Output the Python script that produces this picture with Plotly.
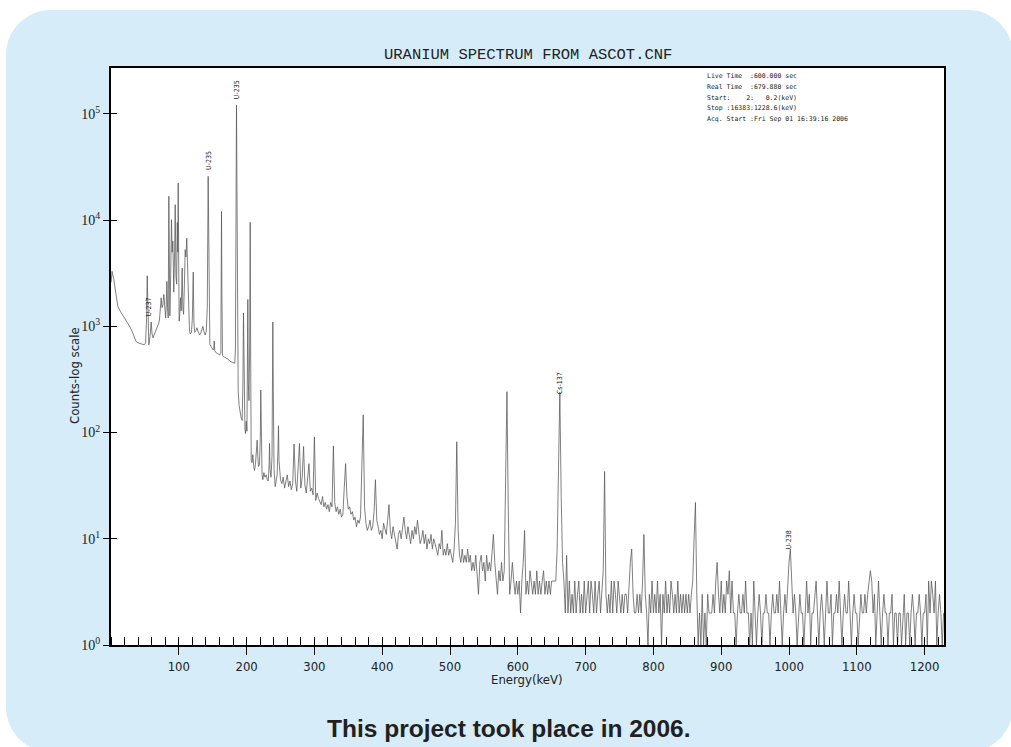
import math
import plotly.graph_objects as go

# ---------------- data ----------------
# low-energy part, irregular sampling around the many peaks
energy_low = [0.2, 1.5, 4, 7, 10, 14, 17, 21, 25, 28, 31, 34, 37, 40, 43, 46, 49, 51,
              52.5, 53.4, 54.3, 55.8, 57.5, 59.3, 60.5, 62, 63.5, 65.7, 68, 70, 71.5, 73,
              74, 75.2, 76.5, 78, 79.3, 80.6, 81.5, 82.4, 83.4, 84.4, 85.3, 86.2, 86.8, 88,
              89.2, 90.2, 91.2, 92, 92.6, 93.8, 94.7, 95.8, 96.8, 97.8, 98.5, 99.1, 99.8,
              100.5, 101.5, 102.5, 103.5, 105, 106, 107, 108.3, 109.4, 110.5, 111.8, 112.8,
              113.8, 114.8, 115.8, 117, 118.7, 120, 121.3, 122.3, 123.5, 125, 126.7, 128.5,
              130.7, 132.5, 134, 135.5, 137, 138.9, 140.5, 142, 143.3, 144.3, 145.8, 148,
              150.7, 151.6, 152.2, 153, 155.6, 158, 160.5, 162, 162.6, 163, 163.6, 164.5,
              167, 170.4, 173, 175.3, 178, 181.2, 182.5, 183.5, 184.5, 185.1, 185.8, 186.5,
              187.6, 189, 190.5, 192, 193.5, 194.6, 195.4, 196.3, 197.5, 198.4, 199.5, 200.5,
              201.3, 201.8, 202.5, 203.5, 204.5, 205.3, 206.1, 206.8, 208, 209.2, 210.5,
              211.7, 213, 214, 215, 215.6, 216.5, 217.6, 219, 220.2, 220.9, 221.7, 222.8,
              224, 225.5, 227, 229, 230.5, 232, 233.2, 233.8, 234.6, 236, 237.5, 238.2,
              238.7, 239.4, 240.5, 242.2, 243.5, 245, 246.3, 247, 247.8, 249]
counts_low = [2600, 3300, 2800, 2000, 1550, 1380, 1290, 1150, 1050, 990, 900, 800, 720, 700, 690, 680, 670, 700,
              1200, 3000, 1100, 670, 800, 1100, 850, 780, 830, 900, 950, 1050, 1150, 1500,
              1860, 1500, 1590, 2000, 1400, 1200, 1600, 2650, 1500, 1200, 16800, 2000, 1260, 3000,
              10100, 5000, 6340, 3500, 2100, 5000, 14000, 3000, 2500, 9500, 5000, 22400, 3000,
              1120, 1300, 1860, 1400, 3540, 1500, 1300, 2500, 5270, 4500, 6770, 4000,
              2650, 1300, 900, 850, 880, 1200, 3250, 1100, 880, 900, 970, 900,
              830, 870, 920, 1000, 900, 830, 900, 1500, 25900, 3000, 680, 640,
              600, 620, 730, 590, 560, 550, 540, 560, 5000, 12100, 2000, 530,
              515, 505, 490, 470, 460, 452, 450, 600, 30000, 121000, 20000, 1500,
              245, 180, 150, 137, 130, 300, 1340, 200, 110, 98, 128, 103,
              400, 1790, 300, 200, 600, 9550, 400, 55, 52, 62, 48,
              44, 50, 60, 70, 85, 60, 48, 50, 90, 252, 70, 40,
              36, 42, 38, 40, 36, 35, 50, 79, 45, 38, 60, 300,
              1100, 250, 45, 31, 35, 40, 70, 116, 55, 38]

# middle part: channels every 2 keV from 250 keV
mid_start_kev = 250.0
mid_step_kev = 2.0
counts_mid = [36, 33, 38, 30, 34, 40, 31, 35, 29, 33,
              78, 35, 28, 45, 79, 30, 38, 74, 32, 27,
              40, 51, 28, 30, 26, 91, 23, 27, 24, 22,
              21, 25, 20, 22, 19, 21, 18, 22, 20, 75,
              22, 18, 20, 17, 19, 16, 17, 30, 51, 25,
              19, 20, 17, 18, 15, 16, 13, 15, 14, 16,
              40, 147, 20, 14, 12, 13, 15, 12, 13, 18,
              36, 15, 13, 11, 12, 10, 14, 12, 11, 15,
              21, 12, 10, 13, 11, 9, 8, 11, 12, 10,
              13, 16, 12, 10, 13, 11, 9, 12, 10, 13,
              11, 15, 12, 9, 10, 12, 9, 11, 8, 10,
              9, 11, 8, 10, 9, 8, 7, 9, 8, 12,
              7, 8, 7, 9, 7, 8, 7, 6, 8, 14,
              82, 12, 7, 6, 8, 6, 7, 6, 8, 6,
              7, 5, 6, 5, 7, 4, 3, 6, 7, 5,
              6, 4, 7, 5, 6]

# high part: channels every 2 keV from 560 keV
high_start_kev = 560.0
high_step_kev = 2.0
counts_high = [5, 8, 11, 6, 4, 3, 5, 4, 6, 4,
               5, 30, 243, 18, 3, 4, 6, 4, 3, 4,
               3, 4, 2, 4, 6, 12, 3, 4, 3, 5,
               4, 3, 4, 3, 5, 3, 4, 3, 4, 5,
               3, 4, 3, 4, 3, 4, 4, 4, 4, 8,
               40, 240, 25, 6, 4, 2, 7, 2, 4, 2,
               3, 2, 4, 2, 3, 4, 2, 3, 2, 4,
               2, 3, 4, 2, 4, 3, 2, 4, 2, 3,
               4, 2, 3, 5, 43, 3, 2, 3, 2, 4,
               2, 4, 3, 2, 4, 3, 2, 3, 2, 3,
               3, 2, 4, 6, 8, 3, 2, 2, 3, 2,
               3, 2, 4, 11, 3, 2, 1, 3, 2, 4,
               2, 3, 2, 4, 2, 3, 1, 3, 2, 4,
               2, 3, 2, 4, 3, 2, 3, 2, 4, 2,
               3, 2, 3, 2, 3, 2, 3, 2, 3, 4,
               10, 22, 3, 1, 2, 1, 3, 1, 2, 1,
               3, 2, 2, 2, 3, 2, 4, 6, 3, 2,
               4, 2, 3, 2, 4, 3, 5, 2, 4, 2,
               2, 1, 2, 3, 2, 2, 3, 2, 4, 2,
               2, 1, 2, 1, 4, 2, 1, 2, 3, 2,
               1, 2, 2, 3, 2, 2, 1, 2, 3, 2,
               2, 3, 2, 4, 2, 1, 2, 3, 2, 4,
               6, 8, 4, 2, 3, 2, 1, 2, 3, 2,
               2, 1, 2, 4, 2, 3, 1, 2, 2, 3,
               4, 2, 1, 2, 3, 2, 1, 2, 4, 2,
               2, 3, 1, 2, 2, 3, 2, 4, 2, 1,
               2, 3, 2, 2, 4, 2, 1, 2, 3, 2,
               2, 1, 2, 3, 2, 2, 3, 2, 3, 4,
               5, 4, 2, 3, 1, 2, 4, 2, 1, 2,
               3, 2, 2, 1, 2, 2, 3, 1, 2, 2,
               1, 2, 2, 1, 2, 3, 1, 2, 2, 1,
               2, 3, 2, 1, 2, 2, 3, 2, 1, 2,
               2, 3, 1, 4, 2, 4, 3, 2, 4, 1,
               2, 3, 2, 1, 2]

peak_label_text = ["U-237", "U-235", "U-235", "Cs-137", "U-238"]
peak_label_energy = [57.4, 143.7, 185.1, 661.6, 1000.4]
peak_label_counts = [1200, 28400, 132000, 218, 7.6]

x_tick_values = [100, 200, 300, 400, 500, 600, 700, 800, 900, 1000, 1100, 1200]
y_tick_values = [1, 10, 100, 1000, 10000, 100000]
y_tick_text = ["10<sup>0</sup>", "10<sup>1</sup>", "10<sup>2</sup>",
               "10<sup>3</sup>", "10<sup>4</sup>", "10<sup>5</sup>"]

info_lines = ["Live Time  :600.000 sec",
              "Real Time  :679.880 sec",
              "Start:    2:   0.2(keV)",
              "Stop :16383:1228.6(keV)",
              "Acq. Start :Fri Sep 01 16:39:16 2006"]

title_text = "URANIUM SPECTRUM FROM ASCOT.CNF"
x_title = "Energy(keV)"
y_title = "Counts-log scale"
caption_text = "This project took place in 2006."

# ---------------- assemble series ----------------
assert len(energy_low) == len(counts_low)
energy_mid = [mid_start_kev + mid_step_kev * i for i in range(len(counts_mid))]
energy_high = [high_start_kev + high_step_kev * i for i in range(len(counts_high))]
energy = energy_low + energy_mid + energy_high
counts = counts_low + counts_mid + counts_high

X_RANGE = [0, 1228.6]
Y_RANGE = [0, 5.433]

# ---------------- layout geometry (pixels) ----------------
W, H = 1011, 747
L, R, T, B = 111, 944, 68, 645


def px(xp):
    return (xp - L) / (R - L)


def py(yp):
    return (B - yp) / (B - T)


fig = go.Figure()
fig.add_trace(go.Scatter(x=energy, y=counts, mode="lines",
                         line=dict(color="#555555", width=0.75),
                         hoverinfo="skip", showlegend=False))
fig.add_trace(go.Scatter(x=[None], y=[None], xaxis="x2", yaxis="y2",
                         hoverinfo="skip", showlegend=False))

tick_font = dict(family="Liberation Sans Narrow, DejaVu Sans Condensed, sans-serif",
                 size=13, color="#222")

fig.update_layout(
    width=W, height=H,
    margin=dict(l=L, r=W - R, t=T, b=H - B, pad=0),
    paper_bgcolor="white", plot_bgcolor="white",
    showlegend=False, hovermode=False,
    xaxis=dict(range=X_RANGE, showgrid=False, zeroline=False,
               showline=True, mirror=True, linewidth=2, linecolor="black",
               ticks="outside", ticklen=8, tickwidth=1, tickcolor="black",
               tickmode="array", tickvals=x_tick_values, tickfont=tick_font,
               minor=dict(ticks="inside", ticklen=8, tickwidth=1, tickcolor="black",
                          tickmode="linear", tick0=0, dtick=20, showgrid=False)),
    xaxis2=dict(range=X_RANGE, overlaying="x", anchor="y2", side="bottom",
                showgrid=False, zeroline=False, showline=False,
                ticks="inside", ticklen=8, tickwidth=1, tickcolor="black",
                tickmode="array", tickvals=x_tick_values, showticklabels=False),
    yaxis=dict(type="log", range=Y_RANGE, showgrid=False, zeroline=False,
               showline=True, mirror=True, linewidth=2, linecolor="black",
               ticks="outside", ticklen=6, tickwidth=1, tickcolor="black",
               tickmode="array", tickvals=y_tick_values, ticktext=y_tick_text,
               tickfont=dict(family="Liberation Serif, serif", size=14, color="#222")),
    yaxis2=dict(type="log", range=Y_RANGE, overlaying="y", anchor="x2", side="left",
                showgrid=False, zeroline=False, showline=False,
                ticks="inside", ticklen=6, tickwidth=1, tickcolor="black",
                tickmode="array", tickvals=y_tick_values, showticklabels=False),
)

# light-blue rounded panel with a hole for the plot area
x0, x1, y0, y1, r = 6, 1013, 10, 752, 45
k = 0.5523 * r


def P(a, b):
    return f"{px(a):.5f},{py(b):.5f}"


panel = (f"M {P(x0 + r, y0)} L {P(x1 - r, y0)} "
         f"C {P(x1 - r + k, y0)} {P(x1, y0 + r - k)} {P(x1, y0 + r)} "
         f"L {P(x1, y1 - r)} "
         f"C {P(x1, y1 - r + k)} {P(x1 - r + k, y1)} {P(x1 - r, y1)} "
         f"L {P(x0 + r, y1)} "
         f"C {P(x0 + r - k, y1)} {P(x0, y1 - r + k)} {P(x0, y1 - r)} "
         f"L {P(x0, y0 + r)} "
         f"C {P(x0, y0 + r - k)} {P(x0 + r - k, y0)} {P(x0 + r, y0)} Z "
         f"M {P(L, T)} L {P(R, T)} L {P(R, B)} L {P(L, B)} Z")
fig.add_shape(type="path", path=panel, xref="paper", yref="paper",
              fillcolor="rgb(214,236,249)", line=dict(width=0),
              fillrule="evenodd", layer="below")

ann = []
ann.append(dict(text=title_text, x=px(527.5), y=py(55), xref="paper", yref="paper",
                showarrow=False, xanchor="center", yanchor="middle",
                font=dict(family="Liberation Mono, monospace", size=15.5, color="#222")))
ann.append(dict(text=x_title, x=px(527), y=py(679), xref="paper", yref="paper",
                showarrow=False, xanchor="center", yanchor="middle", font=tick_font))
ann.append(dict(text=y_title, x=px(75), y=py(376), xref="paper", yref="paper",
                showarrow=False, xanchor="center", yanchor="middle", textangle=-90,
                font=dict(family="DejaVu Sans Condensed, sans-serif", size=13, color="#222")))
ann.append(dict(text="<b>" + caption_text + "</b>", x=px(508.5), y=py(728),
                xref="paper", yref="paper", showarrow=False,
                xanchor="center", yanchor="middle",
                font=dict(family="Liberation Sans, Arial, sans-serif", size=24.5, color="#231f20")))
for i, line in enumerate(info_lines):
    ann.append(dict(text=line.replace(" ", "\u00a0"), x=px(705), y=py(76 + 10.8 * i),
                    xref="paper", yref="paper", showarrow=False,
                    xanchor="left", yanchor="middle",
                    font=dict(family="DejaVu Sans Mono, monospace", size=6.5, color="#222")))
for t, e, c in zip(peak_label_text, peak_label_energy, peak_label_counts):
    ann.append(dict(text=t, x=e, y=math.log10(c), xref="x", yref="y",
                    showarrow=False, textangle=-90, xanchor="center", yanchor="bottom",
                    font=dict(family="DejaVu Sans Condensed, sans-serif", size=7, color="#222")))
fig.update_layout(annotations=ann)

fig.write_html("out.html",
               config={"displayModeBar": False, "staticPlot": True},
               post_script="document.body.style.margin='0';document.body.style.overflow='hidden';")
